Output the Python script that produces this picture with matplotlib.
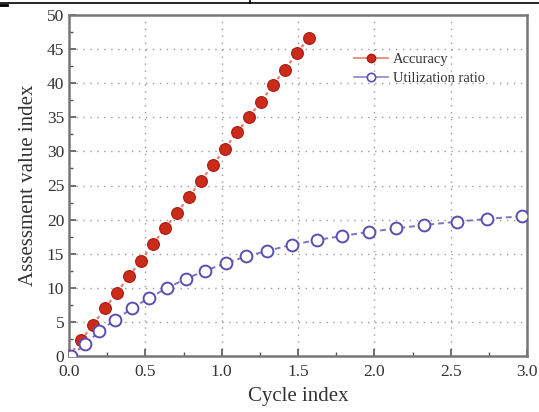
import numpy as np
import matplotlib.pyplot as plt
from matplotlib.lines import Line2D
from matplotlib.ticker import MultipleLocator

# data
acc_x = [0.0, 0.079, 0.157, 0.236, 0.314, 0.393, 0.471, 0.550, 0.628, 0.707, 0.786,
         0.864, 0.943, 1.021, 1.100, 1.178, 1.257, 1.336, 1.414, 1.493, 1.571]
acc_y = [0.0, 2.3, 4.6, 7.0, 9.3, 11.7, 14.0, 16.4, 18.7, 21.0, 23.3,
         25.7, 28.0, 30.4, 32.8, 35.0, 37.3, 39.7, 42.0, 44.4, 46.7]
util_x = [0.01, 0.105, 0.199, 0.303, 0.413, 0.524, 0.644, 0.764, 0.891, 1.026, 1.161,
          1.295, 1.458, 1.622, 1.790, 1.965, 2.141, 2.327, 2.543, 2.739, 2.965]
util_y = [0.0, 1.7, 3.6, 5.3, 7.0, 8.5, 10.0, 11.3, 12.5, 13.6, 14.6,
          15.4, 16.3, 17.0, 17.6, 18.2, 18.7, 19.2, 19.7, 20.1, 20.5]

plt.rcParams['font.family'] = ['Liberation Serif', 'DejaVu Serif']

fig = plt.figure(figsize=(5.39, 4.12), dpi=100)
ax = fig.add_axes([69/539, 1 - 356/412, (527 - 69)/539, (356 - 15)/412])

red = '#cc2a1a'
blue = '#5a4fb0'

ax.plot(acc_x, acc_y, color='#e8806e', ls=(0, (1.5, 1.5)), lw=1.6, zorder=2)
ax.plot(acc_x[1:], acc_y[1:], 'o', color=red, ms=8.5, mec='#a81d10', mew=0.8, zorder=3)
ax.plot(util_x, util_y, color='#7d74c4', ls=(0, (3, 2)), lw=1.4, zorder=2)
ax.plot(util_x, util_y, 'o', mfc='white', mec=blue, ms=8.5, mew=1.4, zorder=3)

ax.set_xlim(0, 3)
ax.set_ylim(0, 50)
ax.xaxis.set_major_locator(MultipleLocator(0.5))
ax.xaxis.set_minor_locator(MultipleLocator(0.25))
ax.yaxis.set_major_locator(MultipleLocator(5))
ax.yaxis.set_minor_locator(MultipleLocator(2.5))
ax.xaxis.set_major_formatter(plt.FormatStrFormatter('%.1f'))
ax.tick_params(which='both', direction='in', top=False, right=False,
               color='#555555', labelsize=12.5, labelcolor='#333333')
ax.tick_params(which='major', length=5, width=1.2)
ax.tick_params(axis='x', which='major', pad=6)
ax.tick_params(which='minor', length=3, width=1)
ax.grid(True, ls=(0, (1, 4)), color='#999999', lw=1)
for s in ax.spines.values():
    s.set_color('#777777')
    s.set_linewidth(1.8)

ax.set_xlabel('Cycle index', fontsize=15, color='#333333', labelpad=5)
ax.set_ylabel('Assessment value index', fontsize=15, color='#333333', labelpad=6)

handles = [
    Line2D([], [], color='#e8806e', lw=1.2, marker='o', ms=6, mfc=red, mec='#a81d10'),
    Line2D([], [], color='#8d84cc', lw=1.2, marker='o', ms=6, mfc='white', mec=blue, mew=1.2),
]
ax.legend(handles, ['Accuracy', 'Utilization ratio'], loc='upper left',
          bbox_to_anchor=(0.61, 0.905), borderaxespad=0, frameon=False, fontsize=10.5,
          handlelength=2.3, handletextpad=0.35, labelspacing=0.4,
          labelcolor='#333333')

# border remnants at the top of the image
fig.add_artist(Line2D([0, 1], [1 - 3/412, 1 - 3/412], color='black', lw=1.2))
fig.add_artist(Line2D([250/539, 250/539], [1 - 3/412, 1], color='black', lw=1.2))
fig.add_artist(Line2D([0, 7/539], [1 - 5/412, 1 - 5/412], color='black', lw=2))

fig.savefig('out.png', dpi=100)
